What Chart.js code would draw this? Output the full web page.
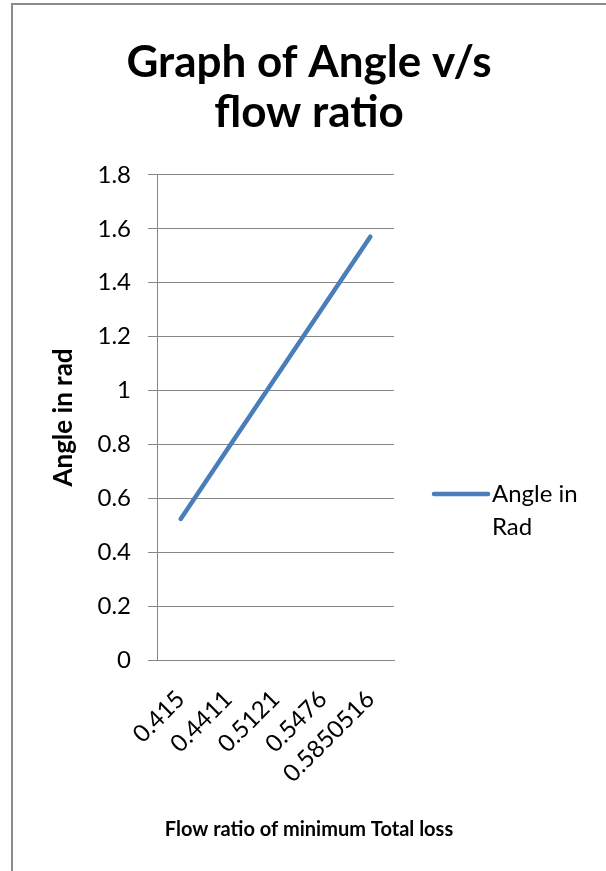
<!DOCTYPE html>
<html>
<head>
<meta charset="utf-8">
<script src="https://cdn.jsdelivr.net/npm/chart.js@4"></script>
<style>
  html, body { margin: 0; padding: 0; background: #fff; }
  canvas { display: block; }
</style>
</head>
<body>
<canvas id="hoekChart" width="606" height="871"></canvas>
<script>
// waarden
const flowRatio = ['0.415', '0.4411', '0.5121', '0.5476', '0.5850516'];
const angleRad = [0.5236, 0.7854, 1.0472, 1.309, 1.5708];
const serieNaam = 'Angle in Rad';
const yMin = 0;
const yMax = 1.8;
const yStap = 0.2;

const lettertype = 'Lato, "Open Sans", sans-serif';
const grijs = '#868686';
const blauw = '#4a7ebb';

// rand links en boven, zoals in het origineel
const randPlugin = {
  id: 'rand',
  beforeDraw(chart) {
    const ctx = chart.ctx;
    ctx.save();
    ctx.fillStyle = '#ffffff';
    ctx.fillRect(0, 0, chart.width, chart.height);
    ctx.fillStyle = '#8c8c8c';
    ctx.fillRect(11, 3, 2, chart.height - 3);
    ctx.fillRect(11, 3, chart.width - 11, 2);
    ctx.restore();
  }
};

// legenda rechts, tekst over twee regels
const legendaPlugin = {
  id: 'legendaRechts',
  afterDraw(chart) {
    const ds = chart.data.datasets[0];
    const ctx = chart.ctx;
    const woorden = ds.label.split(' ');
    const regels = [woorden.slice(0, 2).join(' '), woorden.slice(2).join(' ')];
    const x0 = chart.chartArea.right + 40, y0 = 494;
    ctx.save();
    ctx.strokeStyle = ds.borderColor;
    ctx.lineWidth = ds.borderWidth;
    ctx.lineCap = 'round';
    ctx.beginPath();
    ctx.moveTo(x0, y0);
    ctx.lineTo(x0 + 54, y0);
    ctx.stroke();
    ctx.fillStyle = '#000';
    ctx.font = '24px ' + lettertype;
    ctx.textBaseline = 'middle';
    ctx.textAlign = 'left';
    regels.forEach((r, i) => ctx.fillText(r, x0 + 58, y0 + i * 33));
    ctx.restore();
  }
};

const hoekChart = new Chart(document.getElementById('hoekChart').getContext('2d'), {
  type: 'line',
  data: {
    labels: flowRatio,
    datasets: [{
      label: serieNaam,
      data: angleRad,
      borderColor: blauw,
      backgroundColor: blauw,
      borderWidth: 4.5,
      borderCapStyle: 'round',
      pointRadius: 0,
      tension: 0
    }]
  },
  options: {
    responsive: false,
    animation: false,
    layout: { padding: { left: 12, right: 0, top: 0, bottom: 0 } },
    plugins: {
      legend: { display: false },
      tooltip: { enabled: false },
      title: {
        display: true,
        text: ['Graph of Angle v/s', 'flow ratio'],
        color: '#000',
        font: { family: lettertype, size: 44, weight: 'bold', lineHeight: 1.136 },
        padding: { top: 38, bottom: 37 }
      },
      subtitle: {
        display: true,
        position: 'bottom',
        text: 'Flow ratio of minimum Total loss',
        color: '#000',
        font: { family: lettertype, size: 20, weight: 'bold', lineHeight: 1.2 },
        padding: { top: 29, bottom: 29 }
      }
    },
    scales: {
      x: {
        offset: true,
        grid: { display: false, drawTicks: false, offset: true },
        border: { display: true, color: grijs, width: 1 },
        ticks: {
          color: '#000',
          font: { family: lettertype, size: 24 },
          autoSkip: false,
          minRotation: 45,
          maxRotation: 45,
          padding: 25
        },
        afterFit(scale) { scale.height = 129; }
      },
      y: {
        min: yMin,
        max: yMax,
        grid: { color: grijs, lineWidth: 1, tickLength: 9, drawTicks: true },
        border: { display: true, color: grijs, width: 1 },
        ticks: {
          stepSize: yStap,
          color: '#000',
          padding: 17,
          font: { family: lettertype, size: 24 },
          callback: (waarde) => String(Number(waarde.toFixed(1)))
        },
        title: {
          display: true,
          text: 'Angle in rad',
          color: '#000',
          font: { family: lettertype, size: 26, weight: 'bold', lineHeight: 1.2 },
          padding: { top: 36, bottom: 0 }
        },
        afterFit(scale) { scale.width = 145; }
      },
      // lege as rechts: ruimte voor de legenda
      ruimte: {
        type: 'linear',
        position: 'right',
        display: true,
        grid: { display: false, drawTicks: false },
        border: { display: false },
        ticks: { display: false },
        afterFit(scale) { scale.width = 212; }
      }
    }
  },
  plugins: [randPlugin, legendaPlugin]
});
</script>
</body>
</html>
